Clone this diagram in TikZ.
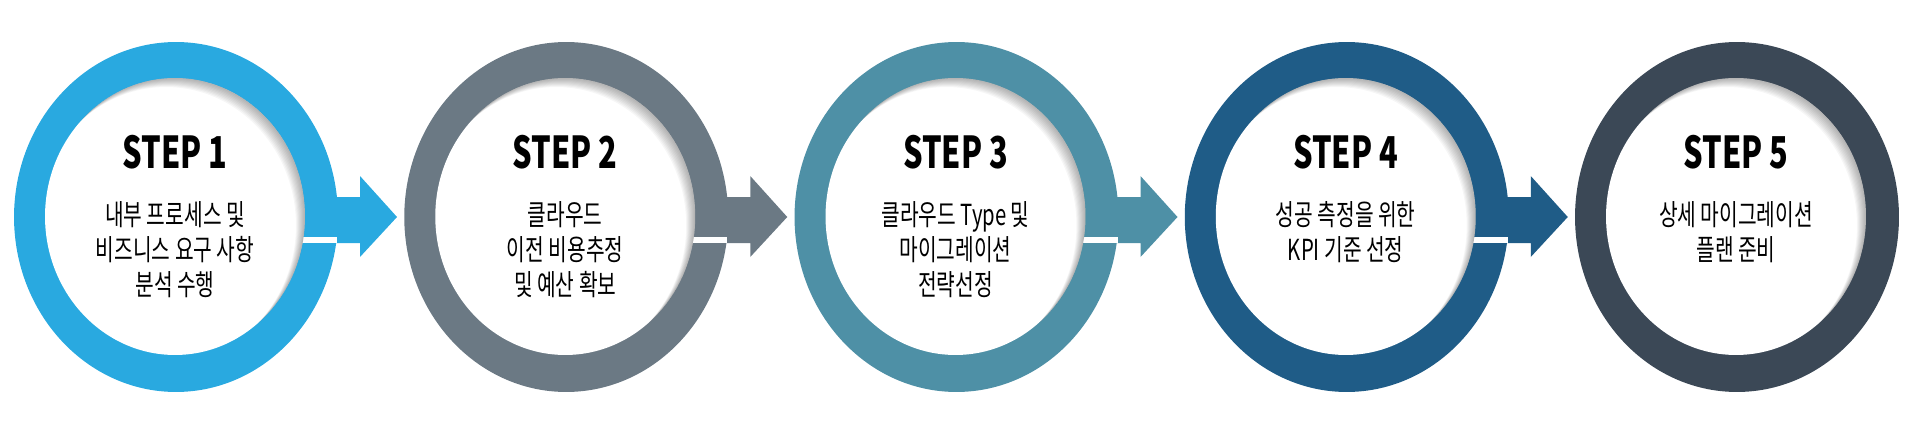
\documentclass[tikz,border=0pt]{standalone}
\usepackage{fontspec}
\setmainfont{Noto Sans CJK KR}[FakeStretch=0.7]
\usetikzlibrary{positioning, calc, shapes.geometric}

\definecolor{stepA}{HTML}{29A9E0}
\definecolor{stepB}{HTML}{6B7984}
\definecolor{stepC}{HTML}{4E90A6}
\definecolor{stepD}{HTML}{1F5C87}
\definecolor{stepE}{HTML}{3B4856}

\begin{document}
\begin{tikzpicture}[x=0.02cm, y=-0.02cm,
    ring/.style={ellipse, minimum width=6.48cm, minimum height=7cm, inner sep=0pt},
    hole/.style={ellipse, fill=white, minimum width=5.2cm, minimum height=5.54cm, inner sep=0pt},
    title/.style={font=\bfseries\fontsize{25}{28}\selectfont},
    desc/.style={align=center, anchor=north, inner sep=0pt, font=\fontsize{16.5}{20}\selectfont}]

    \useasboundingbox (0,0) rectangle (1920,439);

    % Parameters
    \def\gap{390.25} % distance between step centres
    \def\shade{9} % layers of the inner shadow

    % One ring, arrow and text per step
    \foreach \i/\col/\txt in {1/stepA/{내부 프로세스 및\\비즈니스 요구 사항\\분석 수행},
                              2/stepB/{클라우드\\이전 비용추정\\및 예산 확보},
                              3/stepC/{클라우드 Type 및\\마이그레이션\\전략선정},
                              4/stepD/{성공 측정을 위한\\KPI 기준 선정},
                              5/stepE/{상세 마이그레이션\\플랜 준비}} {
        \pgfmathsetmacro{\cx}{176+\gap*(\i-1)}

        \node[ring, fill=\col] (S\i) at (\cx,217) {};

        % Arrow out of the ring
        \ifnum\i<5
            \fill[\col] ($(S\i)+(140,-20)$) -- ++(44,0) -- ++(0,-21) -- ($(S\i)+(221,0)$)
                -- ($(S\i)+(184,40)$) -- ++(0,-14) -- ($(S\i)+(140,26)$) -- cycle;
            \fill[white] ($(S\i)+(115,20)$) rectangle ($(S\i)+(161,26)$);
        \fi

        \node[hole] (W\i) at ($(S\i)+(-1,-0.5)$) {};

        % Shadow of the ring on the white disc
        \begin{scope}
            \clip (W\i.center) ellipse [x radius=2.6cm, y radius=2.77cm];
            \foreach \s in {1,...,\shade} {
                \fill[black, opacity=0.035, even odd rule]
                    (W\i.center) ellipse [x radius=3cm, y radius=3cm]
                    ($(W\i.center)+(-\s,\s)$) ellipse [x radius=2.6cm, y radius=2.77cm];
            }
        \end{scope}

        \node[title] (T\i) at ($(W\i)+(0,-64)$) {STEP \i};
        \node[desc] (D\i) at ($(W\i)+(0,-15.5)$) {\txt};
    }

\end{tikzpicture}
\end{document}
